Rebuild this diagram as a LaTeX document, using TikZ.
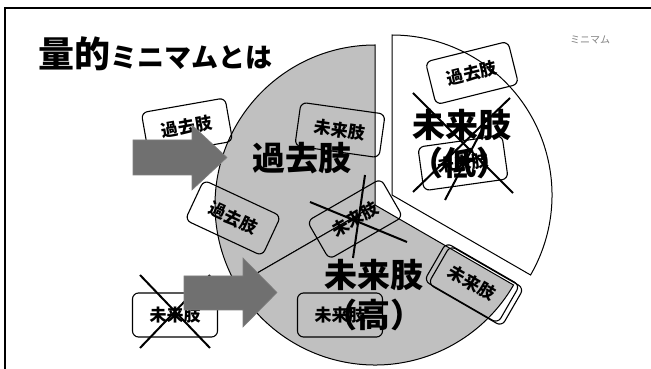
\documentclass[tikz,border=0pt]{standalone}
\usepackage{fontspec}
\setmainfont{Noto Sans CJK JP}
\usetikzlibrary{positioning}

\definecolor{piegray}{RGB}{192,192,192}
\definecolor{arrowgray}{RGB}{112,112,112}

\begin{document}
\begin{tikzpicture}[x=1pt, y=1pt,
  limb/.style={draw, rounded corners=6pt, line width=1.1pt, minimum width=85pt, minimum height=44pt, inner sep=0pt, font=\fontsize{17}{17}\selectfont\bfseries},
  big/.style={inner sep=0pt, font=\fontsize{33}{33}\selectfont\bfseries},
  cross/.style={line width=2pt},
  bigarrow/.style={fill=arrowgray, draw=gray, line width=0.6pt}]
\useasboundingbox (0,0) rectangle (651,369);
\draw[line width=2pt] (5,-5) -- (5,361) -- (660,361);

\node[anchor=base west, inner sep=0pt] (title) at (38,301) {\bfseries\fontsize{36}{36}\selectfont 量的\fontsize{27}{27}\selectfont ミニマムとは};
\node[text=gray, inner sep=0pt, font=\fontsize{10}{10}\selectfont] (mini) at (590,329) {ミニマム};

% pie
\def\r{160}
\coordinate (c) at (375,164);
\coordinate (cw) at (392,174);
\filldraw[fill=piegray, line width=1pt] (c) -- ++(90:\r) arc[start angle=90, end angle=210, radius=\r] -- cycle;
\filldraw[fill=piegray, line width=1pt] (c) -- ++(210:\r) arc[start angle=210, end angle=330, radius=\r] -- cycle;
\filldraw[fill=white, line width=1pt] (cw) -- ++(-30:\r) arc[start angle=-30, end angle=90, radius=\r] -- cycle;

\node[big] (past) at (302,211) {過去肢};
\node[big] (futlow) at (462,244) {未来肢};
\node[big] (futlowp) at (460,206) {（低）};
\node[big] (futhigh) at (374,94) {未来肢};
\node[big] (futhighp) at (374,54) {（高）};

\node[limb, rotate=10] (b1) at (187,242) {過去肢};
\node[limb, rotate=-8] (b2) at (340,239) {未来肢};
\node[limb, rotate=-25] (b3) at (233,151) {過去肢};
\node[limb, rotate=30] (b4) at (355,150) {未来肢};
\node[limb] (b5) at (340,54) {未来肢};
\node[limb] (b6) at (175,54) {未来肢};
\node[limb, rotate=14] (b7) at (472,296) {過去肢};
\node[limb, rotate=8] (b8) at (463,206) {未来肢};
\node[limb, rotate=-30] (b9) at (472,86) {未来肢};
\node[limb, rotate=-30] (b9s) at (476,83) {};

%\draw[cross] (b4.north west) -- (b4.south east);
\draw[cross] (310,167) -- (407,127);
\draw[cross] (365,194) -- (353,111);
\draw[cross] (413,276) -- (513,176);
\draw[cross] (510,271) -- (413,177);
\draw[cross] (483,241) -- (445,169);
\draw[cross] (140,94) -- (210,21);
\draw[cross] (140,21) -- (210,94);

\filldraw[bigarrow] (133,194) -- (192,194) -- (192,179) -- (227,211.5) -- (192,244) -- (192,229) -- (133,229) -- cycle;
\filldraw[bigarrow] (184,59) -- (243,59) -- (243,42) -- (277,76.5) -- (243,111) -- (243,93) -- (184,93) -- cycle;

\end{tikzpicture}
\end{document}
